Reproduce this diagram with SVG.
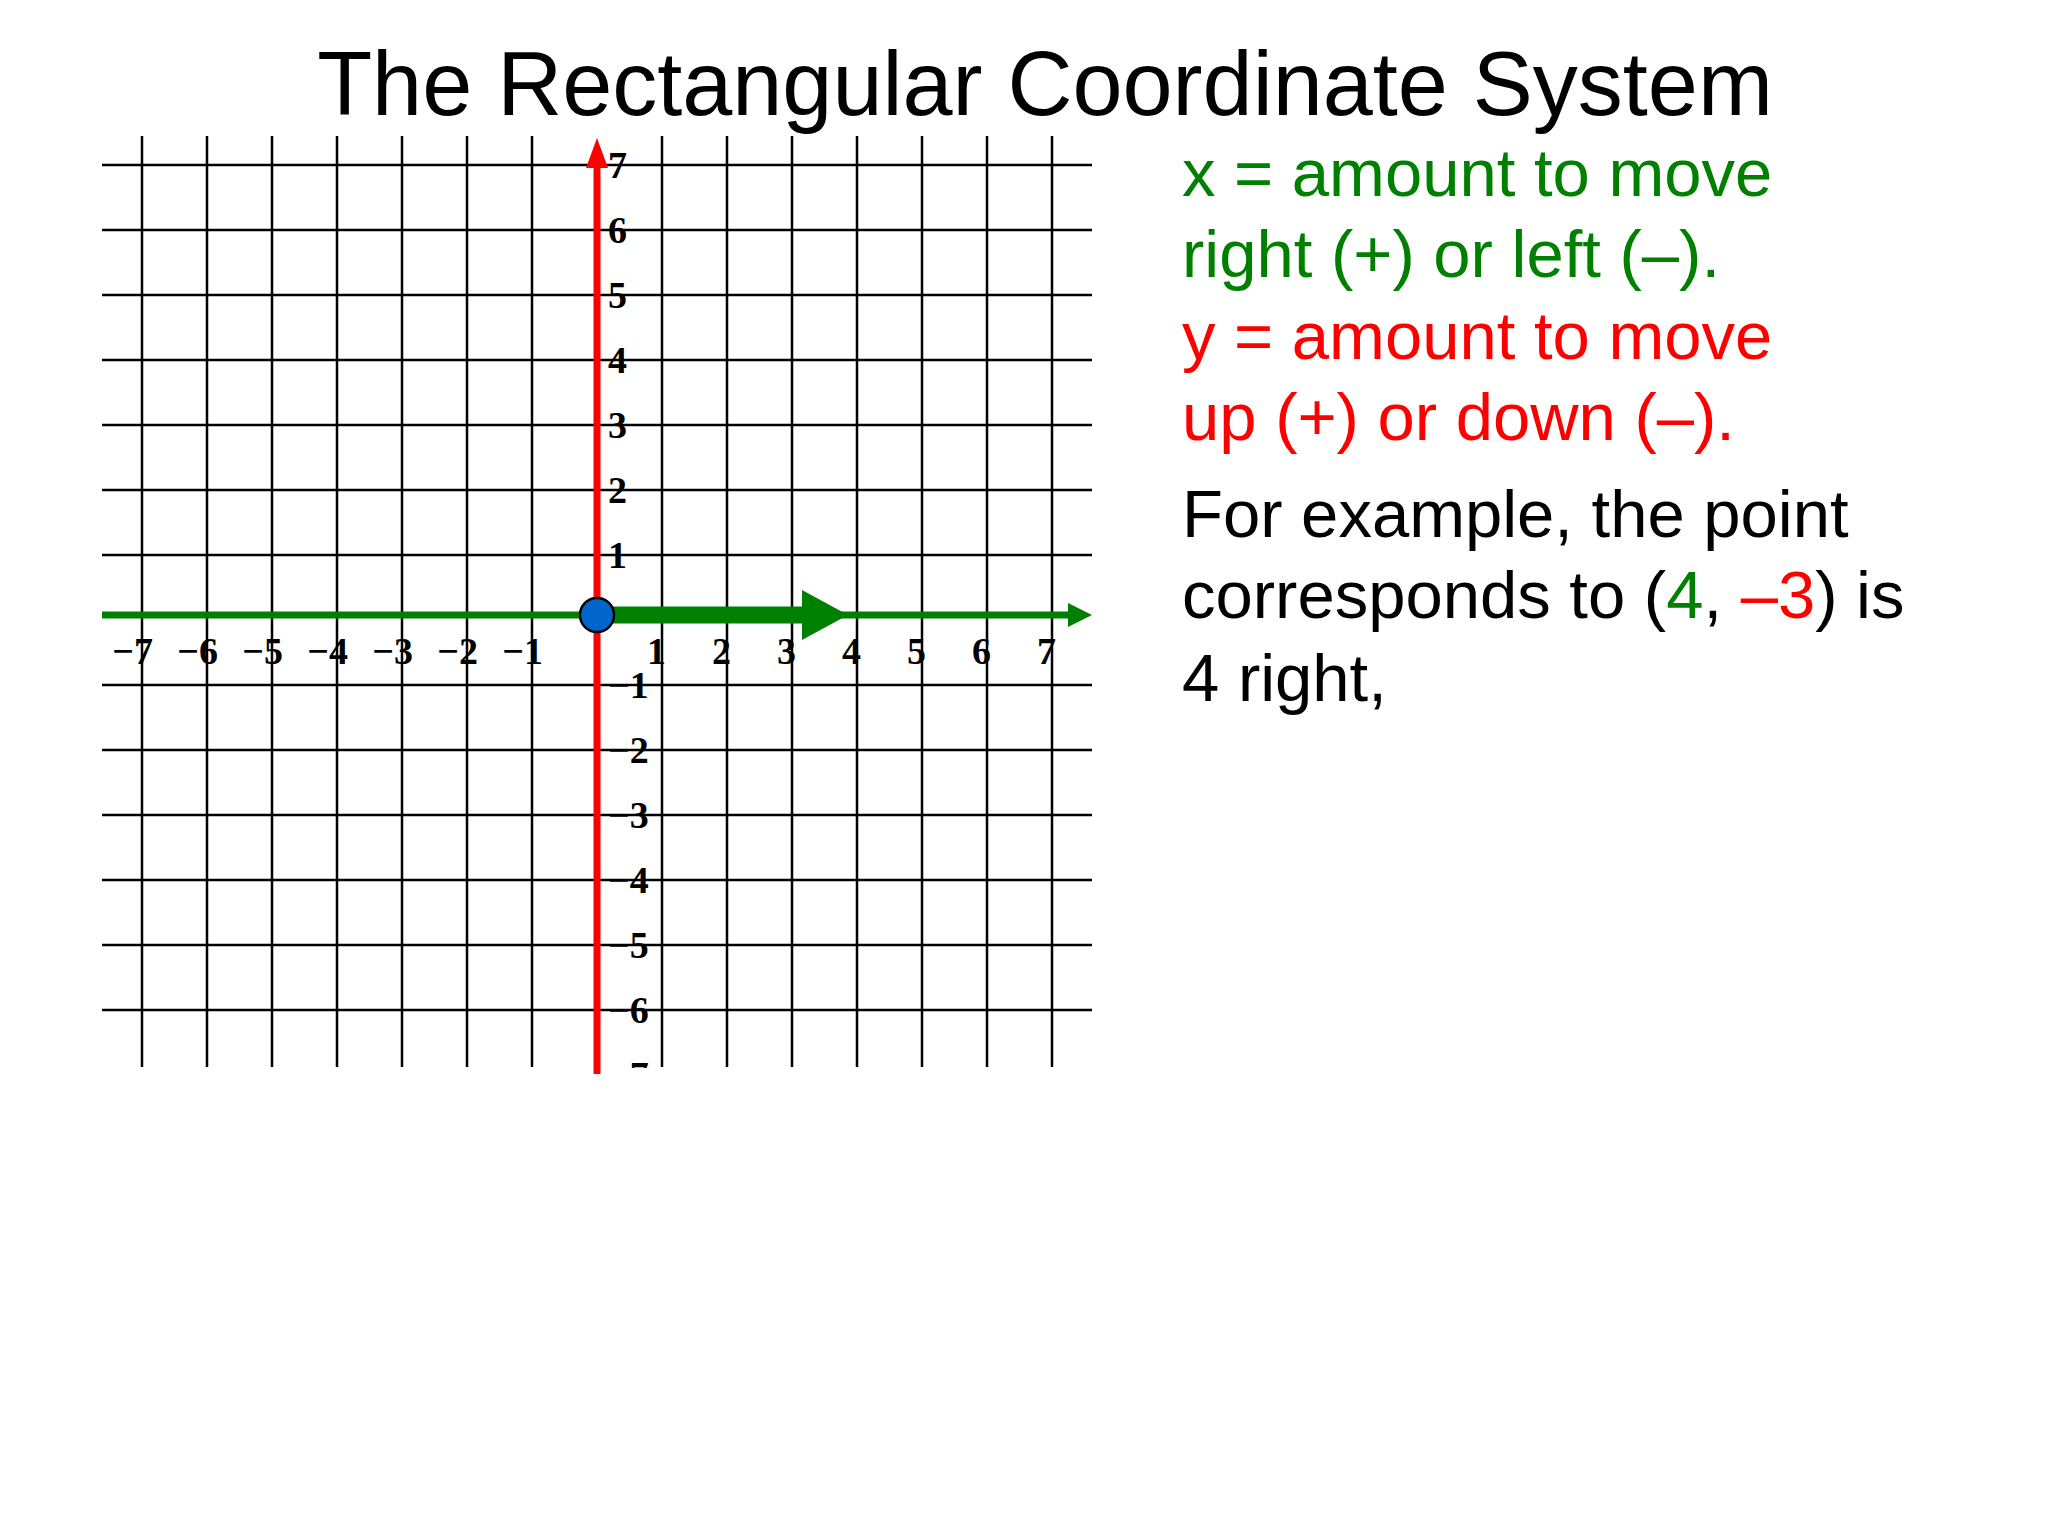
<svg xmlns="http://www.w3.org/2000/svg" width="2048" height="1536" viewBox="0 0 2048 1536">
<defs>
<style>
.g{stroke:#000;stroke-width:2.5}
.lb{font-family:"Liberation Serif",serif;font-weight:bold;font-size:38px;fill:#000}
.t{font-family:"Liberation Sans",Arial,sans-serif;font-size:67px}
.gr{fill:#008000}.rd{fill:#ff0000}.bk{fill:#000}
</style>
<clipPath id="c"><rect x="0" y="0" width="2048" height="1068"/></clipPath>
</defs>
<rect width="2048" height="1536" fill="#fff"/>
<text x="1045" y="115" text-anchor="middle" class="t" style="font-size:90px" fill="#000">The Rectangular Coordinate System</text>
<g id="grid" class="g">
<path d="M142 136V1067M207 136V1067M272 136V1067M337 136V1067M402 136V1067M467 136V1067M532 136V1067M662 136V1067M727 136V1067M792 136V1067M857 136V1067M922 136V1067M987 136V1067M1052 136V1067"/>
<path d="M102 165H1092M102 230H1092M102 295H1092M102 360H1092M102 425H1092M102 490H1092M102 555H1092M102 685H1092M102 750H1092M102 815H1092M102 880H1092M102 945H1092M102 1010H1092"/>
</g>
<g id="labels" class="lb" clip-path="url(#c)">
<text x="153" y="664" text-anchor="end">−7</text><text x="218" y="664" text-anchor="end">−6</text><text x="283" y="664" text-anchor="end">−5</text><text x="348" y="664" text-anchor="end">−4</text><text x="413" y="664" text-anchor="end">−3</text><text x="478" y="664" text-anchor="end">−2</text><text x="543" y="664" text-anchor="end">−1</text>
<text x="647" y="664">1</text><text x="712" y="664">2</text><text x="777" y="664">3</text><text x="842" y="664">4</text><text x="907" y="664">5</text><text x="972" y="664">6</text><text x="1037" y="664">7</text>
<text x="608" y="178">7</text><text x="608" y="243">6</text><text x="608" y="308">5</text><text x="608" y="373">4</text><text x="608" y="438">3</text><text x="608" y="503">2</text><text x="608" y="568">1</text>
<text x="608" y="698">−1</text><text x="608" y="763">−2</text><text x="608" y="828">−3</text><text x="608" y="893">−4</text><text x="608" y="958">−5</text><text x="608" y="1023">−6</text><text x="608" y="1088">−7</text>
</g>
<g id="axes">
<line x1="597" y1="160" x2="597" y2="1074" stroke="#ff0000" stroke-width="7"/>
<polygon points="597,138 586,168 608,168" fill="#ff0000"/>
<line x1="102" y1="615" x2="1070" y2="615" stroke="#008000" stroke-width="7"/>
<polygon points="1092,615 1068,603 1068,627" fill="#008000"/>
<line x1="597" y1="615" x2="805" y2="615" stroke="#008000" stroke-width="17"/>
<polygon points="802,590 848,615 802,640" fill="#008000"/>
<circle cx="597" cy="615" r="17" fill="#0066cc" stroke="#000" stroke-width="2.5"/>
</g>
<g id="text" class="t">
<text x="1182" y="196" class="gr">x = amount to move</text>
<text x="1182" y="277" class="gr">right (+) or left (–).</text>
<text x="1182" y="359" class="rd">y = amount to move</text>
<text x="1182" y="440" class="rd">up (+) or down (–).</text>
<text x="1182" y="537" class="bk">For example, the point</text>
<text x="1182" y="618" class="bk">corresponds to (<tspan class="gr">4</tspan>, <tspan class="rd">–3</tspan>) is</text>
<text x="1182" y="701" class="bk">4 right,</text>
</g>
</svg>
